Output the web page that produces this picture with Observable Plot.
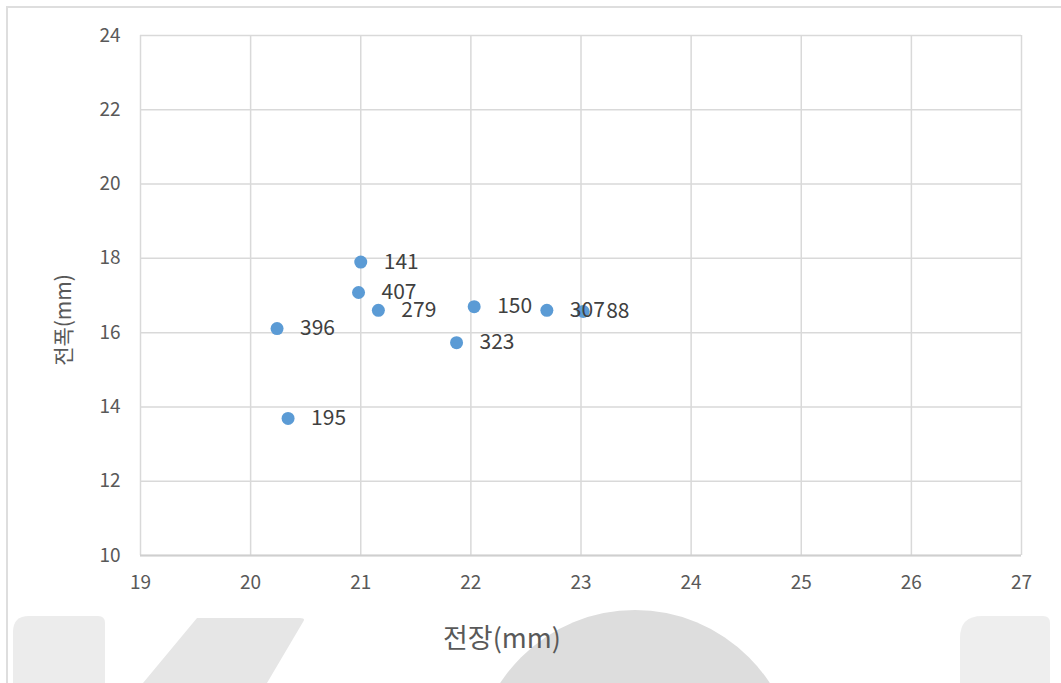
<!DOCTYPE html>
<html>
<head>
<meta charset="utf-8">
<script src="https://cdn.jsdelivr.net/npm/d3@7"></script>
<script src="https://cdn.jsdelivr.net/npm/@observablehq/plot@0.6"></script>
<style>
  html, body { margin: 0; padding: 0; background: #fff; }
  #wrap { position: relative; width: 1061px; height: 683px; overflow: hidden; background: #fff;
          font-family: "Noto Sans CJK KR", "Noto Sans", sans-serif; }
  #border { position: absolute; left: 6px; top: 6px; width: 1070px; height: 700px;
            border: 2px solid #dedede; box-sizing: border-box; }
  #wm { position: absolute; left: 0; top: 0; }
  #chart { position: absolute; left: 0; top: 0; }
  .axlabel { position: absolute; color: #595959; white-space: nowrap; }
  #xlabel { left: 502px; top: 636px; font-size: 27px; transform: translate(-50%, -50%); }
  #ylabel { left: 62px; top: 320px; font-size: 21px; transform: translate(-50%, -50%) rotate(-90deg); }
</style>
</head>
<body>
<div id="wrap">
  <svg id="wm" width="1061" height="683">
    <path d="M13,683 L13,632 Q13,616 29,616 L98,616 Q105,616 105,623 L105,683 Z" fill="#ececec"/>
    <path d="M143,683 L197,618 L300,618 Q306,618 303,622 L267,683 Z" fill="#e6e6e6"/>
    <circle cx="635" cy="771" r="161" fill="#dddddd"/>
    <path d="M960,683 L960,638 Q960,616 982,616 L1043,616 Q1050,616 1050,623 L1050,683 Z" fill="#eeeeee"/>
  </svg>
  <div id="border"></div>
  <div id="chart"></div>
  <div id="xlabel" class="axlabel">전장(mm)</div>
  <div id="ylabel" class="axlabel">전폭(mm)</div>
</div>
<script>
// Data
const ids    = ["141", "407", "279", "396", "195", "323", "150", "307", "88"];
const lengthMM = [21.00, 20.98, 21.16, 20.24, 20.34, 21.87, 22.03, 22.69, 23.02];
const widthMM  = [17.90, 17.08, 16.60, 16.11, 13.69, 15.73, 16.70, 16.60, 16.57];
const xTicks = [19, 20, 21, 22, 23, 24, 25, 26, 27];
const yTicks = [10, 12, 14, 16, 18, 20, 22, 24];

const data = ids.map((id, i) => ({id, x: lengthMM[i], y: widthMM[i]}));

const chart = Plot.plot({
  width: 1061,
  height: 683,
  marginLeft: 140,
  marginRight: 40,
  marginTop: 35,
  marginBottom: 128,
  style: {background: "transparent", fontFamily: "'Noto Sans CJK KR', 'Noto Sans', sans-serif", fontSize: "19px", color: "#595959"},
  x: {domain: [19, 27], ticks: xTicks, label: null},
  y: {domain: [10, 24], ticks: yTicks, label: null},
  marks: [
    Plot.gridX(xTicks, {stroke: "#d9d9d9", strokeOpacity: 1, strokeWidth: 1.5}),
    Plot.gridY(yTicks, {stroke: "#d9d9d9", strokeOpacity: 1, strokeWidth: 1.5}),
    Plot.ruleY([10], {stroke: "#cfcfcf", strokeWidth: 2}),
    Plot.axisX({ticks: xTicks, tickSize: 0, tickPadding: 20, fill: "#595959", fontSize: 19, label: null}),
    Plot.axisY({ticks: yTicks, tickSize: 0, tickPadding: 20, fill: "#595959", fontSize: 19, label: null}),
    Plot.dot(data, {x: "x", y: "y", r: 6.5, fill: "#5b9bd5", stroke: "none"}),
    Plot.text(data, {x: "x", y: "y", text: "id", dx: 23, textAnchor: "start", fill: "#404040", fontSize: 21})
  ]
});
document.getElementById("chart").appendChild(chart);
</script>
</body>
</html>
